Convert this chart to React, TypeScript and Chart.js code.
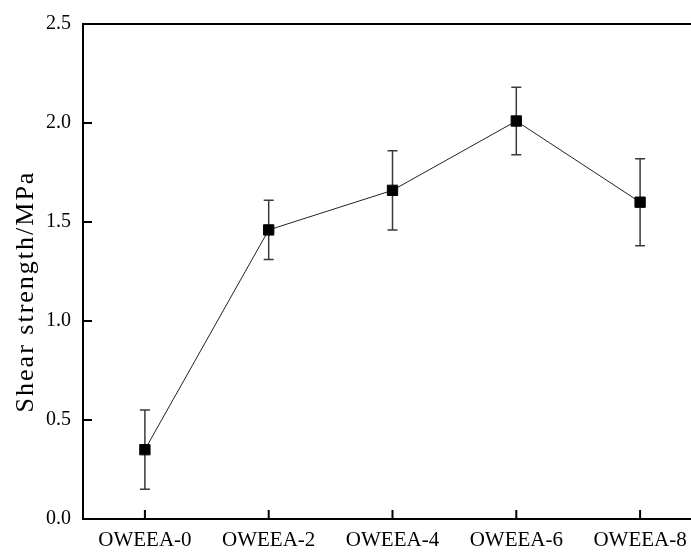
import React, { useEffect, useRef } from "react";
import { Chart, registerables } from "chart.js";

Chart.register(...registerables);

const categories = ["OWEEA-0", "OWEEA-2", "OWEEA-4", "OWEEA-6", "OWEEA-8"];
const shearStrength = [0.35, 1.46, 1.66, 2.01, 1.6];
const errorUpper = [0.55, 1.61, 1.86, 2.18, 1.82];
const errorLower = [0.15, 1.31, 1.46, 1.84, 1.38];
const yTicks = [0, 0.5, 1.0, 1.5, 2.0, 2.5];
const yTitle = "Shear strength/MPa";

const FONT = "'Liberation Serif', 'Times New Roman', serif";

const errorBarPlugin = {
  id: "errorBars",
  beforeDatasetsDraw(chart: any) {
    const { ctx, scales } = chart;
    const x = scales.x;
    const y = scales.y;
    ctx.save();
    ctx.strokeStyle = "#3a3a3a";
    ctx.lineWidth = 1.5;
    categories.forEach((_, i) => {
      const px = x.getPixelForValue(i);
      const yu = y.getPixelForValue(errorUpper[i]);
      const yl = y.getPixelForValue(errorLower[i]);
      ctx.beginPath();
      ctx.moveTo(px, yu);
      ctx.lineTo(px, yl);
      ctx.moveTo(px - 5, yu);
      ctx.lineTo(px + 5, yu);
      ctx.moveTo(px - 5, yl);
      ctx.lineTo(px + 5, yl);
      ctx.stroke();
    });
    ctx.restore();
  },
};

const framePlugin = {
  id: "frame",
  afterDraw(chart: any) {
    const { ctx, chartArea, scales } = chart;
    const { left, top, right, bottom } = chartArea;
    ctx.save();
    ctx.strokeStyle = "#000";
    ctx.lineWidth = 2;
    ctx.strokeRect(left, top, right - left, bottom - top);
    ctx.beginPath();
    yTicks.forEach((v) => {
      const py = scales.y.getPixelForValue(v);
      ctx.moveTo(left, py);
      ctx.lineTo(left + 9, py);
    });
    categories.forEach((_, i) => {
      const px = scales.x.getPixelForValue(i);
      ctx.moveTo(px, bottom);
      ctx.lineTo(px, bottom - 9);
    });
    ctx.stroke();

    // y-axis title
    ctx.translate(33, (top + bottom) / 2 + 20);
    ctx.rotate(-Math.PI / 2);
    ctx.fillStyle = "#000";
    ctx.font = `26px ${FONT}`;
    try {
      (ctx as any).letterSpacing = "2px";
    } catch (e) {}
    ctx.textAlign = "center";
    ctx.textBaseline = "alphabetic";
    ctx.fillText(yTitle, 0, 0);
    ctx.restore();
  },
};

export default function App() {
  const ref = useRef<HTMLCanvasElement | null>(null);

  useEffect(() => {
    if (!ref.current) return;
    const chart = new Chart(ref.current, {
      type: "line",
      data: {
        labels: categories,
        datasets: [
          {
            data: shearStrength,
            borderColor: "#222",
            borderWidth: 1,
            pointStyle: "rect",
            pointRadius: 7.3,
            pointBackgroundColor: "#000",
            pointBorderColor: "#000",
            pointBorderWidth: 1,
            tension: 0,
            fill: false,
          },
        ],
      },
      options: {
        animation: false,
        responsive: false,
        layout: { padding: { left: 0, top: 20, right: 9, bottom: 0 } },
        plugins: {
          legend: { display: false },
          tooltip: { enabled: false },
        },
        scales: {
          x: {
            type: "category",
            offset: true,
            grid: { display: false, drawTicks: false },
            border: { display: false },
            ticks: {
              color: "#000",
              padding: 9,
              maxRotation: 0,
              autoSkip: false,
              font: { family: FONT, size: 21 },
            },
            afterFit(scale: any) {
              scale.height = 35;
            },
          },
          y: {
            min: 0,
            max: 2.5,
            grid: { display: false, drawTicks: false },
            border: { display: false },
            ticks: {
              stepSize: 0.5,
              color: "#000",
              padding: 12,
              font: { family: FONT, size: 20 },
              callback: (v: any) => Number(v).toFixed(1),
            },
            afterFit(scale: any) {
              scale.width = 83;
            },
          },
        },
      },
      plugins: [errorBarPlugin, framePlugin],
    });
    return () => chart.destroy();
  }, []);

  return (
    <div
      style={{
        position: "fixed",
        left: 0,
        top: 0,
        width: 691,
        height: 554,
        overflow: "hidden",
        background: "#fff",
      }}
    >
      <canvas ref={ref} width={711} height={554} style={{ display: "block" }} />
    </div>
  );
}
